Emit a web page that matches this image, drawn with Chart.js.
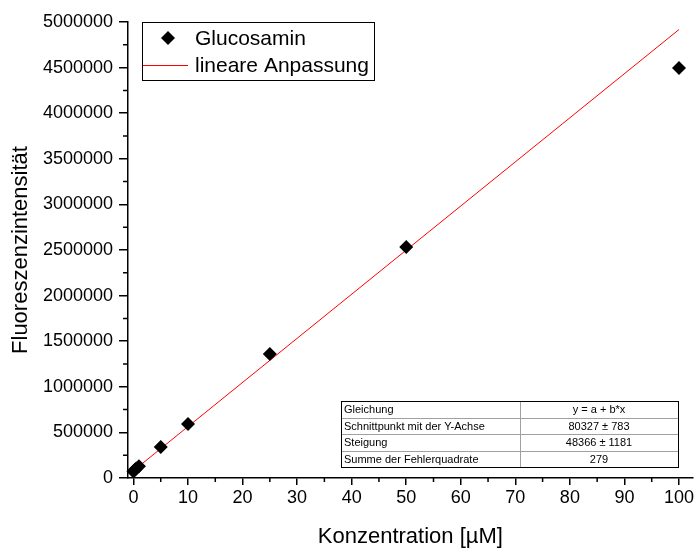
<!DOCTYPE html>
<html>
<head>
<meta charset="utf-8">
<script src="https://cdn.jsdelivr.net/npm/chart.js@4"></script>
<style>
  html, body { margin: 0; padding: 0; background: #fff; }
  #wrap { width: 694px; height: 549px; position: relative; }
</style>
</head>
<body>
<div id="wrap"><canvas id="c" width="694" height="549"></canvas></div>
<script>
// Calibration data: glucosamine concentration vs. fluorescence intensity
const concentration = [0, 0.25, 0.5, 1, 5, 10, 25, 50, 100];
const intensity = [70000, 90000, 105000, 130000, 340000, 592000, 1360000, 2533000, 4496000];

// Linear fit parameters (y = a + b*x)
const fitIntercept = 80327;
const fitSlope = 48366;
const fitRange = [0, 100];

// Axis ticks
const xMajorTicks = [0, 10, 20, 30, 40, 50, 60, 70, 80, 90, 100];
const xMinorTicks = [5, 15, 25, 35, 45, 55, 65, 75, 85, 95];
const yMajorTicks = [0, 500000, 1000000, 1500000, 2000000, 2500000, 3000000, 3500000, 4000000, 4500000, 5000000];
const yMinorTicks = [250000, 750000, 1250000, 1750000, 2250000, 2750000, 3250000, 3750000, 4250000, 4750000];

// Fit statistics table
const tableLabels = ['Gleichung', 'Schnittpunkt mit der Y-Achse', 'Steigung', 'Summe der Fehlerquadrate'];
const tableValues = ['y = a + b*x', '80327 \u00B1 783', '48366 \u00B1 1181', '279'];

const legendLabels = ['Glucosamin', 'lineare Anpassung'];

const FONT = '"Liberation Sans", Arial, sans-serif';

const scatterPoints = concentration.map((x, i) => ({ x: x, y: intensity[i] }));
const fitPoints = fitRange.map(x => ({ x: x, y: fitIntercept + fitSlope * x }));

// Minor ticks, legend box and fit table
const extras = {
  id: 'extras',
  afterDraw(chart) {
    const ctx = chart.ctx;
    const xs = chart.scales.x, ys = chart.scales.y;
    const area = chart.chartArea;
    ctx.save();
    ctx.strokeStyle = '#000';
    ctx.lineWidth = 1.5;
    ctx.beginPath();
    xMinorTicks.forEach(v => {
      const px = xs.getPixelForValue(v);
      ctx.moveTo(px, area.bottom);
      ctx.lineTo(px, area.bottom + 4);
    });
    yMinorTicks.forEach(v => {
      const py = ys.getPixelForValue(v);
      ctx.moveTo(area.left, py);
      ctx.lineTo(area.left - 5, py);
    });
    ctx.stroke();

    // legend
    const lx = area.left + 14, ly = area.top, lw = 232, lh = 58;
    ctx.fillStyle = '#fff';
    ctx.fillRect(lx, ly, lw, lh);
    ctx.lineWidth = 1;
    ctx.strokeStyle = '#000';
    ctx.strokeRect(lx + 0.5, ly + 0.5, lw, lh);
    // diamond marker
    const mx = lx + 26, my = ly + 16, r = 7;
    ctx.fillStyle = '#000';
    ctx.beginPath();
    ctx.moveTo(mx, my - r);
    ctx.lineTo(mx + r, my);
    ctx.lineTo(mx, my + r);
    ctx.lineTo(mx - r, my);
    ctx.closePath();
    ctx.fill();
    // red line sample
    ctx.strokeStyle = '#ff0000';
    ctx.lineWidth = 1;
    ctx.beginPath();
    ctx.moveTo(lx + 1, ly + 43.5);
    ctx.lineTo(lx + 46, ly + 43.5);
    ctx.stroke();
    ctx.fillStyle = '#000';
    ctx.font = '21px ' + FONT;
    ctx.textBaseline = 'middle';
    ctx.textAlign = 'left';
    ctx.fillText(legendLabels[0], lx + 53, my + 1);
    ctx.fillText(legendLabels[1], lx + 53, ly + 44);

    // fit table
    const tx = 341, ty = 401, tw = 337, rh = 16.5, c1 = 520 - tx;
    const th = rh * tableLabels.length;
    ctx.fillStyle = '#fff';
    ctx.fillRect(tx, ty, tw, th);
    ctx.strokeStyle = '#a0a0a0';
    ctx.lineWidth = 1;
    ctx.beginPath();
    for (let i = 1; i < tableLabels.length; i++) {
      const yy = Math.round(ty + rh * i) + 0.5;
      ctx.moveTo(tx, yy);
      ctx.lineTo(tx + tw, yy);
    }
    ctx.moveTo(tx + c1 + 0.5, ty);
    ctx.lineTo(tx + c1 + 0.5, ty + th);
    ctx.stroke();
    ctx.strokeStyle = '#000';
    ctx.strokeRect(tx + 0.5, ty + 0.5, tw, th);
    ctx.fillStyle = '#000';
    ctx.font = '11px ' + FONT;
    ctx.textBaseline = 'middle';
    tableLabels.forEach((t, i) => {
      const cy = ty + rh * i + rh / 2 + 1;
      ctx.textAlign = 'left';
      ctx.fillText(t, tx + 3, cy);
      ctx.textAlign = 'center';
      ctx.fillText(tableValues[i], tx + c1 + (tw - c1) / 2, cy);
    });
    ctx.restore();
  }
};

new Chart(document.getElementById('c'), {
  type: 'scatter',
  data: {
    datasets: [
      {
        label: legendLabels[1],
        type: 'line',
        data: fitPoints,
        borderColor: '#ff0000',
        borderWidth: 1,
        pointRadius: 0,
        fill: false,
        order: 2
      },
      {
        label: legendLabels[0],
        data: scatterPoints,
        pointStyle: 'rectRot',
        pointRadius: 7,
        pointHoverRadius: 7,
        backgroundColor: '#000',
        borderWidth: 0,
        clip: false,
        order: 1
      }
    ]
  },
  options: {
    responsive: false,
    animation: false,
    events: [],
    layout: { autoPadding: false, padding: { top: 22, right: 0, left: 0, bottom: 0 } },
    plugins: { legend: { display: false }, tooltip: { enabled: false } },
    scales: {
      x: {
        type: 'linear',
        min: -1,
        max: 102.5,
        afterFit(s) { s.height = 71; },
        afterBuildTicks(s) { s.ticks = xMajorTicks.map(v => ({ value: v })); },
        grid: { drawOnChartArea: false, drawTicks: true, tickLength: 7, color: '#000', lineWidth: 1.5 },
        border: { display: true, color: '#000', width: 1.5 },
        ticks: { color: '#000', font: { family: FONT, size: 18, lineHeight: 1.5 }, padding: 0, maxRotation: 0, autoSkip: false },
        title: { display: true, text: 'Konzentration [\u00B5M]', color: '#000', font: { family: FONT, size: 22 }, padding: { top: 0, bottom: -1 } }
      },
      y: {
        type: 'linear',
        min: 0,
        max: 5000000,
        afterFit(s) { s.width = 128; },
        afterBuildTicks(s) { s.ticks = yMajorTicks.map(v => ({ value: v })); },
        grid: { drawOnChartArea: false, drawTicks: true, tickLength: 9, color: '#000', lineWidth: 1.5 },
        border: { display: true, color: '#000', width: 1.5 },
        ticks: { color: '#000', font: { family: FONT, size: 18 }, padding: 6, autoSkip: false, callback: v => String(v) },
        title: { display: true, text: 'Fluoreszenzintensit\u00E4t', color: '#000', font: { family: FONT, size: 22 }, padding: { top: 8, bottom: 0 } }
      }
    }
  },
  plugins: [extras]
});
</script>
</body>
</html>
